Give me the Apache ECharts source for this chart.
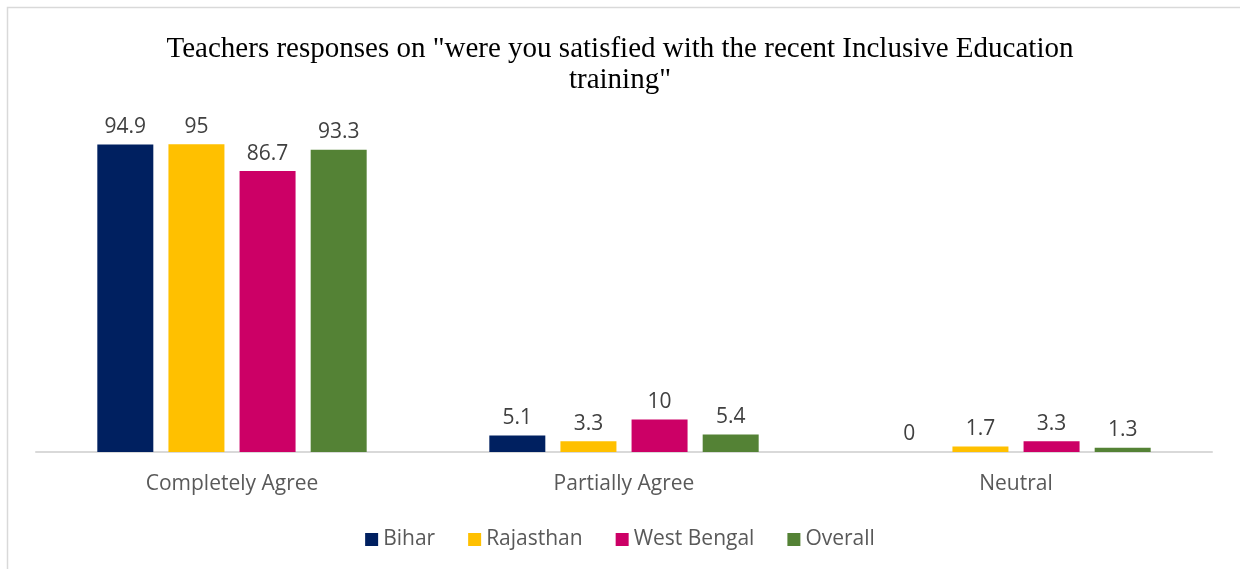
<!DOCTYPE html>
<html><head><meta charset="utf-8">
<script src="https://cdn.jsdelivr.net/npm/echarts@6/dist/echarts.min.js"></script>
<style>html,body{margin:0;padding:0;background:#fff}#c{width:1240px;height:569px}</style>
</head><body><div id="c"></div>
<script>
const categories = ["Completely Agree", "Partially Agree", "Neutral"];
const seriesNames = ["Bihar", "Rajasthan", "West Bengal", "Overall"];
const bihar = [94.9, 5.1, 0];
const rajasthan = [95, 3.3, 1.7];
const westBengal = [86.7, 10, 3.3];
const overall = [93.3, 5.4, 1.3];
const colors = ["#002060", "#FFC000", "#CC0066", "#548235"];
const titleText = 'Teachers responses on "were you satisfied with the recent Inclusive Education\ntraining"';

const dataSets = [bihar, rajasthan, westBengal, overall];
const chart = echarts.init(document.getElementById('c'));
chart.setOption({
  animation: false,
  backgroundColor: '#fff',
  title: {
    text: titleText, left: 'center', top: 29,
    textStyle: {fontFamily: 'Liberation Serif', fontSize: 29, fontWeight: 'normal', color: '#000', lineHeight: 31}
  },
  graphic: [{type: 'rect', shape: {x: 7.5, y: 7.5, width: 1250, height: 600}, style: {fill: 'none', stroke: '#d9d9d9', lineWidth: 1.5}}],
  legend: {
    top: 524, left: 'center', itemWidth: 13, itemHeight: 13, itemGap: 33,
    icon: 'rect',
    textStyle: {fontFamily: 'Open Sans', fontSize: 21, color: '#595959'},
    data: seriesNames
  },
  grid: {left: 36, right: 28, top: 128, bottom: 117},
  xAxis: {
    type: 'category', data: categories,
    axisLine: {lineStyle: {color: '#d9d9d9', width: 2}},
    axisTick: {show: false},
    axisLabel: {fontFamily: 'Open Sans', fontSize: 21, color: '#595959', margin: 22}
  },
  yAxis: {type: 'value', min: 0, max: 100, show: false, splitLine: {show: false}},
  series: seriesNames.map((n, i) => ({
    name: n, type: 'bar', data: dataSets[i], barWidth: 56, barGap: '27%',
    itemStyle: {color: colors[i]},
    label: {show: true, position: 'top', distance: 7, fontFamily: 'Open Sans', fontSize: 21, color: '#404040'}
  }))
});
</script></body></html>
